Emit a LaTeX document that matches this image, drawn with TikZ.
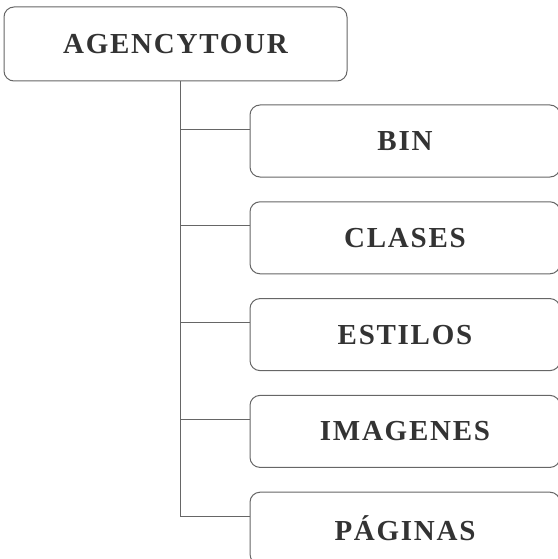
\documentclass[tikz,border=0pt]{standalone}
\usepackage{fontspec}
\setmainfont[LetterSpace=6]{Liberation Serif}
\tikzset{
folder/.style={draw=black!60,line width=1pt,rounded corners=10pt,text=black!80,
  font=\fontsize{29}{34}\selectfont\bfseries},
branch/.style={draw=black!60,line width=1pt},
}
\begin{document}
\begin{tikzpicture}[x=1pt,y=-1pt]
\useasboundingbox (0,0) rectangle (557,559);
\node[folder,minimum width=343pt,minimum height=74pt] (root) at (175.5,44) {AGENCYTOUR};
\coordinate (trunk) at (180,81);
\foreach \name/\txt [count=\i] in {bin/BIN,clases/CLASES,estilos/ESTILOS,imagenes/IMAGENES,paginas/PÁGINAS}{
\node[folder,minimum width=310pt,minimum height=72pt] (\name) at (405,{141+96.8*(\i-1)}) {\txt};
\draw[branch] ([yshift=12pt]\name.west) -- ([yshift=12pt]\name.west -| trunk);
}
\draw[branch] (root.south -| trunk) -- ([yshift=12pt]paginas.west -| trunk);
\end{tikzpicture}
\end{document}
